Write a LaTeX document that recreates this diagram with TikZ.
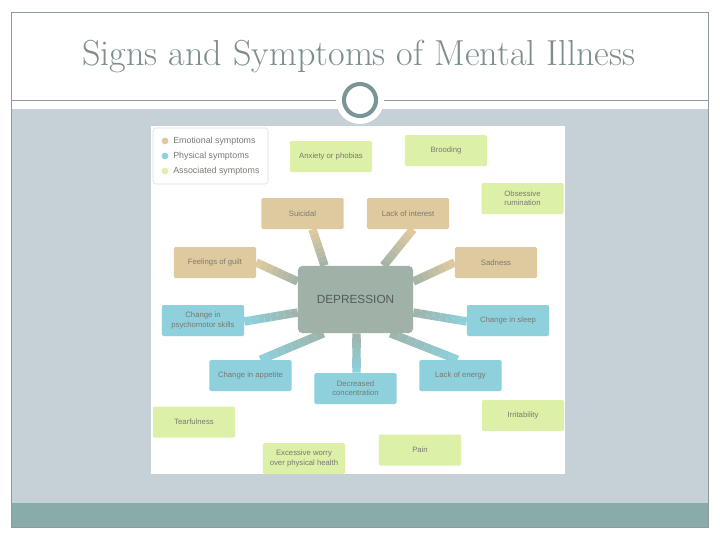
\documentclass[tikz,border=0pt]{standalone}
\usepackage{fontspec}
\setsansfont{Liberation Sans}
\usetikzlibrary{calc}

\definecolor{emo}{HTML}{DFCA9F}
\definecolor{phys}{HTML}{8ED0DC}
\definecolor{assoc}{HTML}{DCF0A8}
\definecolor{depgray}{HTML}{A0B1A7}
\definecolor{deptext}{HTML}{555C59}
\definecolor{band}{HTML}{C5D1D7}
\definecolor{footer}{HTML}{89ACAB}
\definecolor{framegray}{HTML}{8C9C9C}
\definecolor{titlegray}{HTML}{7E8E8E}
\definecolor{ringgray}{HTML}{7A9595}
\definecolor{labelgray}{HTML}{7A7A72}

\pgfdeclarelayer{slide}
\pgfdeclarelayer{spokes}
\pgfsetlayers{slide,spokes,main}

\tikzset{
  symptom/.style={rectangle, rounded corners=1pt, minimum width=2.05cm, minimum height=0.775cm,
    inner sep=1pt, align=center, text=labelgray, font=\sffamily\fontsize{5.5}{6.6}\selectfont},
  hub/.style={rectangle, rounded corners=3pt, fill=depgray, minimum width=2.875cm, minimum height=1.675cm,
    text=deptext, font=\sffamily\fontsize{8.4}{9}\selectfont},
  spokeline/.style={line width=6pt},
  legtext/.style={anchor=west, inner sep=0pt, text=labelgray, font=\sffamily\fontsize{6.3}{7}\selectfont},
}

% a spoke from box end #1 to hub end #2, fading from #3 to the hub colour
\newcommand{\spoke}[3]{%
  \foreach \i in {0,...,7}{
    \pgfmathsetmacro{\ta}{\i/8}
    \pgfmathsetmacro{\tb}{(\i+1)/8}
    \pgfmathtruncatemacro{\mix}{100-90*\i/7}
    \draw[spokeline, #3!\mix!depgray] ($(#1)!\ta!(#2)$) -- ($(#1)!\tb!(#2)$);
  }}

\begin{document}
\begin{tikzpicture}[x=0.025cm, y=-0.025cm]
    % Fix the page to the slide size
    \useasboundingbox (0,0) rectangle (720,540);

    \begin{pgfonlayer}{slide}
        \fill[white] (0,0) rectangle (720,540);
        % Draw the slide bands and frame
        \fill[band] (11,109) rectangle (708,503);
        \fill[footer] (11,503) rectangle (708,527);
        \draw[framegray, line width=0.6pt] (11,12) rectangle (708,527);
        \draw[framegray, line width=0.6pt] (11,100) -- (708,100);

        % Ring on the rule
        \fill[white] (360,100) circle (0.6cm);
        \draw[ringgray, line width=2.9pt] (360,100) circle (0.4cm);

        % Picture panel
        \fill[white] (151,126) rectangle (565,474);

        % Legend
        \draw[gray!25, fill=white, rounded corners=2pt] (153,128) rectangle (268,184);
        \fill[emo] (165,141) circle (0.085cm);
        \fill[phys] (165,156) circle (0.085cm);
        \fill[assoc] (165,171) circle (0.085cm);
    \end{pgfonlayer}

    \node[legtext] (legemo) at (173,141) {Emotional symptoms};
    \node[legtext] (legphys) at (173,156) {Physical symptoms};
    \node[legtext] (legassoc) at (173,171) {Associated symptoms};

    % Title
    \node[text=titlegray, font=\fontsize{25.7}{30}\selectfont] (title) at (359,56) {Signs and Symptoms of Mental Illness};

    % Hub
    \node[hub] (dep) at (355.5,299.5) {DEPRESSION};

    % Emotional symptoms
    \node[symptom, fill=emo] (suicidal) at (302.5,213.5) {Suicidal};
    \node[symptom, fill=emo] (interest) at (408,213.5) {Lack of interest};
    \node[symptom, fill=emo] (guilt) at (215,262.5) {Feelings of guilt};
    \node[symptom, fill=emo] (sadness) at (496,262.5) {Sadness};

    % Physical symptoms
    \node[symptom, fill=phys] (psychomotor) at (203,320.5) {Change in\\psychomotor skills};
    \node[symptom, fill=phys] (sleep) at (508,320.5) {Change in sleep};
    \node[symptom, fill=phys] (appetite) at (250.5,375.5) {Change in appetite};
    \node[symptom, fill=phys] (concentration) at (355.5,388.5) {Decreased\\concentration};
    \node[symptom, fill=phys] (energy) at (460.5,375.5) {Lack of energy};

    % Associated symptoms
    \node[symptom, fill=assoc] (anxiety) at (331,156.5) {Anxiety or phobias};
    \node[symptom, fill=assoc] (brooding) at (446,150.5) {Brooding};
    \node[symptom, fill=assoc] (rumination) at (522.5,198.5) {Obsessive\\rumination};
    \node[symptom, fill=assoc] (tearfulness) at (194,422) {Tearfulness};
    \node[symptom, fill=assoc] (irritability) at (523,415.5) {Irritability};
    \node[symptom, fill=assoc] (worry) at (304,458.5) {Excessive worry\\over physical health};
    \node[symptom, fill=assoc] (pain) at (420,450) {Pain};

    % Spoke ends
    \coordinate (b1) at ($(suicidal.south)+(10,0)$);   \coordinate (h1) at ($(dep.north)+(-31,0)$);
    \coordinate (b2) at ($(interest.south)+(5,0)$);    \coordinate (h2) at ($(dep.north)+(28,0)$);
    \coordinate (b3) at (guilt.east);                  \coordinate (h3) at ($(dep.west)+(0,-18)$);
    \coordinate (b4) at (sadness.west);                \coordinate (h4) at ($(dep.east)+(0,-18)$);
    \coordinate (b5) at ($(psychomotor.east)+(0,1)$);  \coordinate (h5) at ($(dep.west)+(0,13)$);
    \coordinate (b6) at ($(sleep.west)+(0,1)$);        \coordinate (h6) at ($(dep.east)+(0,13)$);
    \coordinate (b7) at ($(appetite.north)+(10,0)$);   \coordinate (h7) at ($(dep.south)+(-32,0)$);
    \coordinate (b8) at ($(concentration.north)+(1,0)$); \coordinate (h8) at ($(dep.south)+(1,0)$);
    \coordinate (b9) at ($(energy.north)+(-3,0)$);     \coordinate (h9) at ($(dep.south)+(35,0)$);

    % Draw the spokes
    \begin{pgfonlayer}{spokes}
        \spoke{b1}{h1}{emo}
        \spoke{b2}{h2}{emo}
        \spoke{b3}{h3}{emo}
        \spoke{b4}{h4}{emo}
        \spoke{b5}{h5}{phys}
        \spoke{b6}{h6}{phys}
        \spoke{b7}{h7}{phys}
        \spoke{b8}{h8}{phys}
        \spoke{b9}{h9}{phys}
    \end{pgfonlayer}
\end{tikzpicture}
\end{document}
